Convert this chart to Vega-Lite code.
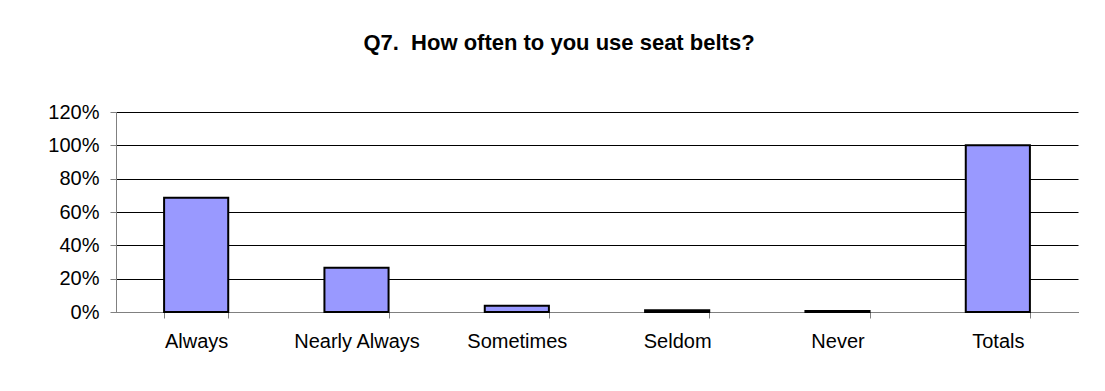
{
  "$schema": "https://vega.github.io/schema/vega-lite/v6.json",
  "width": 962,
  "height": 200,
  "autosize": "none",
  "padding": {"left": 116, "top": 112, "right": 27, "bottom": 79},
  "background": "white",
  "title": {
    "text": "Q7.\u00a0 How often to you use seat belts?",
    "font": "Liberation Sans",
    "fontSize": 22,
    "fontWeight": "bold",
    "color": "#000000",
    "anchor": "middle",
    "dx": -38,
    "offset": 47
  },
  "data": {
    "values": [
      {"category": "Always", "pct": 0.685},
      {"category": "Nearly Always", "pct": 0.266},
      {"category": "Sometimes", "pct": 0.038},
      {"category": "Seldom", "pct": 0.011},
      {"category": "Never", "pct": 0.006},
      {"category": "Totals", "pct": 1.0}
    ]
  },
  "mark": {"type": "bar", "fill": "#9999FF", "stroke": "#000000", "strokeWidth": 2},
  "encoding": {
    "x": {
      "field": "category",
      "type": "nominal",
      "sort": null,
      "scale": {"paddingInner": 0.6, "paddingOuter": 0.3},
      "axis": {
        "title": null,
        "labelAngle": 0,
        "labelFont": "Liberation Sans",
        "labelFontSize": 20,
        "labelColor": "#000000",
        "labelPadding": 13,
        "domainColor": "#808080",
        "tickColor": "#808080",
        "tickBand": "extent",
        "tickSize": 6,
        "grid": false
      }
    },
    "y": {
      "field": "pct",
      "type": "quantitative",
      "scale": {"domain": [0, 1.2], "nice": false},
      "axis": {
        "title": null,
        "values": [0, 0.2, 0.4, 0.6, 0.8, 1.0, 1.2],
        "format": ".0%",
        "labelFont": "Liberation Sans",
        "labelFontSize": 20,
        "labelColor": "#000000",
        "labelPadding": 11,
        "domainColor": "#808080",
        "tickColor": "#808080",
        "tickSize": 6,
        "grid": true,
        "gridColor": "#000000",
        "gridWidth": 1
      }
    }
  },
  "config": {"view": {"stroke": null}}
}
